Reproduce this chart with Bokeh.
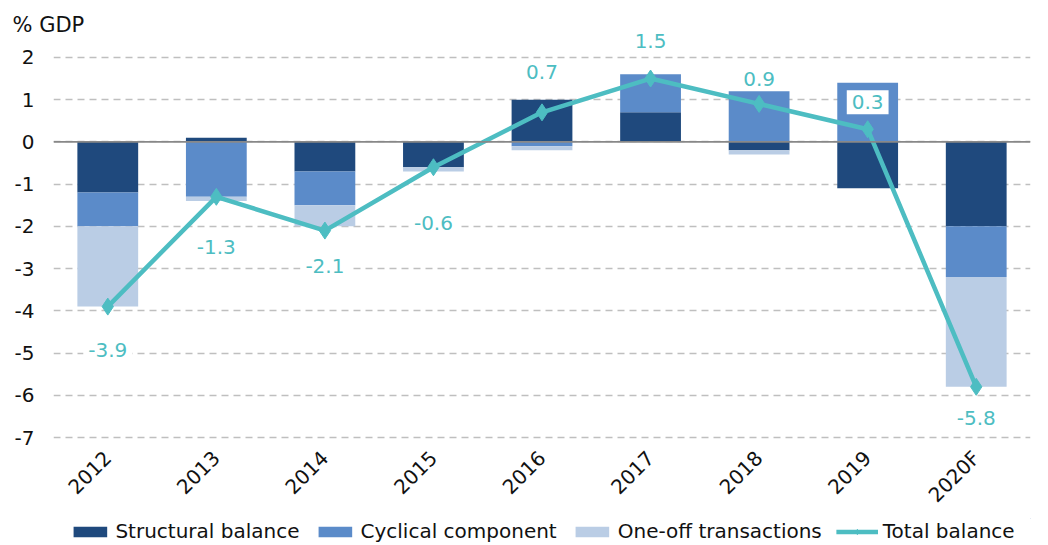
import math
import numpy as np
from bokeh.plotting import figure
from bokeh.layouts import column
from bokeh.core.properties import value
from bokeh.models import ColumnDataSource, Range1d, FactorRange, Span, Legend, LegendItem, LabelSet
from bokeh.embed import file_html
from bokeh.resources import INLINE

# ---- data ----
years = ["2012", "2013", "2014", "2015", "2016", "2017", "2018", "2019", "2020F"]
structural = [-1.2, 0.1, -0.7, -0.6, 1.0, 0.7, -0.2, -1.1, -2.0]
cyclical = [-0.8, -1.3, -0.8, 0.0, -0.1, 0.9, 1.2, 1.4, -1.2]
one_off = [-1.9, -0.1, -0.5, -0.1, -0.1, 0.0, -0.1, 0.0, -2.6]
total = [-3.9, -1.3, -2.1, -0.6, 0.7, 1.5, 0.9, 0.3, -5.8]
series_names = ["Structural balance", "Cyclical component", "One-off transactions", "Total balance"]
y_ticks = [-7, -6, -5, -4, -3, -2, -1, 0, 1, 2]

# ---- styles ----
FONT = "DejaVu Sans"
C_STRUCT = "#1F497D"
C_CYCL = "#5B8BC9"
C_ONEOFF = "#BACDE5"
C_TOTAL = "#4DBDC2"
label_shift = [-43, -50, -35, -56, 40, 38, 25, 27, -31]  # pixel offsets of value labels

p = figure(
    x_range=FactorRange(*years),
    y_range=Range1d(-7.047, 2.638),
    width=1044, height=518,
    output_backend="svg", toolbar_location=None,
    min_border_left=53, min_border_right=14, min_border_top=30, min_border_bottom=0,
)
p.outline_line_color = None
p.background_fill_color = "white"

# stacked bars (positives stack up, negatives stack down)
pos = np.zeros(len(years))
neg = np.zeros(len(years))
colors = [C_STRUCT, C_CYCL, C_ONEOFF]
for vals, color in zip([structural, cyclical, one_off], colors):
    v = np.array(vals, dtype=float)
    bottom = np.where(v >= 0, pos, neg)
    top = bottom + v
    pos = np.where(v >= 0, top, pos)
    neg = np.where(v < 0, top, neg)
    src = ColumnDataSource(dict(x=years, bottom=bottom, top=top))
    p.vbar(x="x", bottom="bottom", top="top", width=0.56, source=src,
           fill_color=color, line_color=None)

p.add_layout(Span(location=0, dimension="width", line_color="#888888", line_width=1.8))

tsrc = ColumnDataSource(dict(x=years, total=total, lbl=[f"{t:.1f}" for t in total], yoff=label_shift))
p.line(x="x", y="total", source=tsrc, line_color=C_TOTAL, line_width=4.5)
p.scatter(x="x", y="total", source=tsrc, marker="diamond", size=17,
          fill_color=C_TOTAL, line_color=C_TOTAL)

labels = LabelSet(x="x", y="total", text="lbl", y_offset="yoff", source=tsrc,
                  text_align="center", text_baseline="middle",
                  text_color=C_TOTAL, text_font=value(FONT), text_font_size=value("20px"),
                  background_fill_color="white",
                  border_line_color="white", border_line_width=10, border_line_join="miter")
p.add_layout(labels)

# axes
p.yaxis.ticker = y_ticks
p.yaxis.major_label_overrides = {t: str(t) for t in y_ticks}
p.yaxis.axis_line_color = None
p.yaxis.major_tick_line_color = None
p.yaxis.minor_tick_line_color = None
p.yaxis.major_label_text_font = FONT
p.yaxis.major_label_text_font_size = "20px"
p.yaxis.major_label_text_color = "#111111"
p.yaxis.major_label_standoff = 13

p.xaxis.axis_line_color = None
p.xaxis.major_tick_line_color = None
p.xaxis.major_label_orientation = math.pi / 4
p.xaxis.major_label_text_font = FONT
p.xaxis.major_label_text_font_size = "20px"
p.xaxis.major_label_text_color = "#111111"
p.xaxis.major_label_standoff = 9

p.xgrid.visible = False
p.ygrid.grid_line_color = "#BFBFBF"
p.ygrid.grid_line_dash = "7 5"
p.ygrid.grid_line_width = 1.5

p.title.text = "% GDP"
p.title.align = "left"
p.title.offset = -41
p.title.standoff = -12
p.title.text_font = FONT
p.title.text_font_size = "21px"
p.title.text_font_style = "normal"
p.title.text_color = "#111111"

# ---- legend strip (separate small figure holding the legend) ----
lg = figure(width=1044, height=26, output_backend="svg", toolbar_location=None,
            x_axis_location=None, y_axis_location=None,
            x_range=Range1d(0, 1), y_range=Range1d(0, 1),
            min_border=0)
lg.outline_line_color = None
lg.xgrid.visible = False
lg.ygrid.visible = False
# legend-only renderers, placed outside the visible range of the strip
hidden = ColumnDataSource(dict(x=[5.0], y=[5.0], top=[5.0], bottom=[4.0]))
leg_r = [lg.vbar(x="x", top="top", bottom="bottom", width=0.5, source=hidden,
                 fill_color=c, line_color=None) for c in colors]
leg_l = lg.line(x="x", y="y", source=hidden, line_color=C_TOTAL, line_width=4.5)
leg_s = lg.scatter(x="x", y="y", source=hidden, marker="diamond", size=12,
                   fill_color=C_TOTAL, line_color=C_TOTAL)
legend = Legend(
    items=[
        LegendItem(label=series_names[0], renderers=[leg_r[0]]),
        LegendItem(label=series_names[1], renderers=[leg_r[1]]),
        LegendItem(label=series_names[2], renderers=[leg_r[2]]),
        LegendItem(label=series_names[3], renderers=[leg_l, leg_s]),
    ],
    orientation="horizontal", location="center",
    glyph_width=42, glyph_height=13, label_standoff=5, spacing=14,
    padding=0, margin=0, border_line_color=None, background_fill_alpha=0,
    label_text_font=FONT, label_text_font_size="20px", label_text_color="#111111",
    label_height=22,
)
lg.add_layout(legend)

layout = column(p, lg, spacing=0)
open("out.html", "w").write(file_html(layout, INLINE))
